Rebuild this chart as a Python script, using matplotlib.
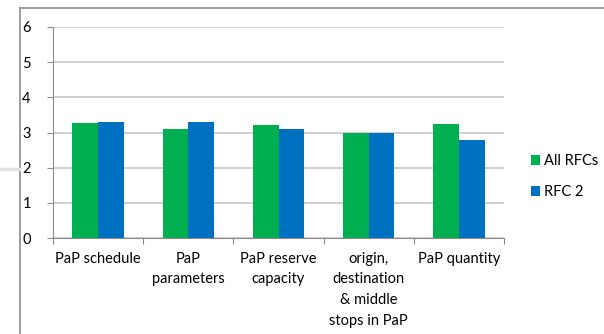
import matplotlib
matplotlib.use("Agg")
from matplotlib import pyplot as plt
from matplotlib.lines import Line2D
import numpy as np

categories = ["PaP schedule", "PaP\nparameters", "PaP reserve\ncapacity",
              "origin,\ndestination\n& middle\nstops in PaP", "PaP quantity"]
all_rfcs = [3.28, 3.10, 3.22, 3.00, 3.25]
rfc_2 = [3.31, 3.31, 3.11, 3.00, 2.80]
series_names = ["All RFCs", "RFC 2"]
colors = ["#00B050", "#0070C0"]

plt.rcParams['font.family'] = ['Lato', 'DejaVu Sans']

W, H = 604, 334
fig = plt.figure(figsize=(W / 100, H / 100), dpi=100)
ax = fig.add_axes([53 / W, 1 - 238 / H, (504 - 53) / W, (238 - 27) / H])

x = np.arange(len(categories))
width = 1 / 3.5
ax.bar(x - width / 2, all_rfcs, width, color=colors[0], label=series_names[0])
ax.bar(x + width / 2, rfc_2, width, color=colors[1], label=series_names[1])

ax.set_xlim(-0.5, len(categories) - 0.5)
ax.set_ylim(0, 6)
ax.set_yticks(range(0, 7))
ax.yaxis.grid(True, color="#C4C4C4", linewidth=1.1)
ax.set_axisbelow(True)

# category labels sit between boundary ticks
ax.set_xticks(np.arange(len(categories) + 1) - 0.5)
ax.set_xticklabels([])
ax.set_xticks(x, minor=True)
ax.set_xticklabels(categories, minor=True, fontsize=10.5, linespacing=1.6,
                   va="top")
ax.tick_params(axis="x", which="minor", length=0, pad=10)
ax.tick_params(axis="x", which="major", length=4, color="#8C8C8C")
ax.tick_params(axis="y", length=4, color="#8C8C8C", labelsize=10.5, pad=12)

for s in ["top", "right"]:
    ax.spines[s].set_visible(False)
for s in ["left", "bottom"]:
    ax.spines[s].set_color("#8C8C8C")

ax.legend(loc="center left", bbox_to_anchor=(1.03, 0.29), frameon=False,
          fontsize=10.5, handlelength=0.65, handleheight=0.65, handletextpad=0.25,
          labelspacing=1.15)

# chart frame
fig.add_artist(Line2D([20 / W, 20 / W], [0, 1 - 8 / H], transform=fig.transFigure,
                      color="#8C8C8C", linewidth=1.2))
fig.add_artist(Line2D([20 / W, 1], [1 - 8 / H, 1 - 8 / H], transform=fig.transFigure,
                      color="#8C8C8C", linewidth=1.2))
fig.add_artist(Line2D([0, 19 / W], [1 - 169 / H, 1 - 169 / H], transform=fig.transFigure,
                      color="#E2E2E2", linewidth=2.5))

fig.savefig("out.png", dpi=100)
